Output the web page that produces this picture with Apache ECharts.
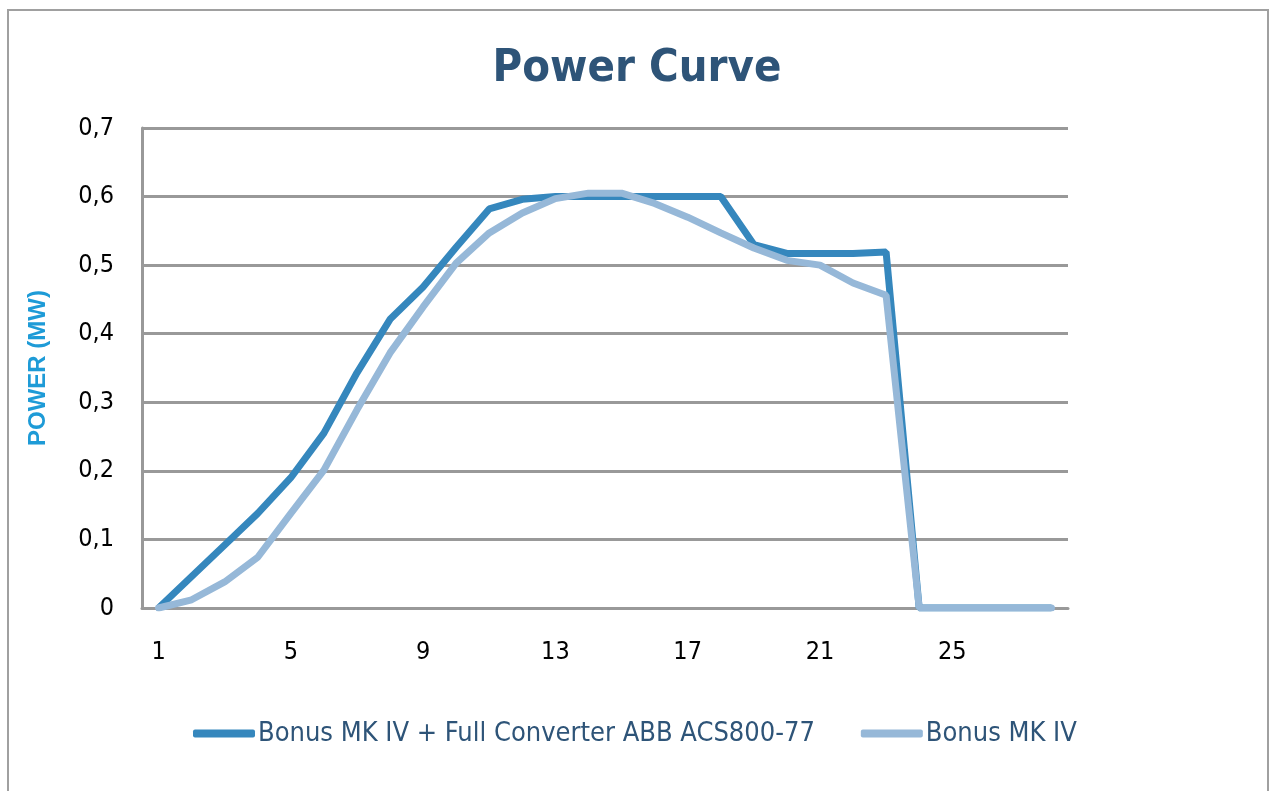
<!DOCTYPE html>
<html>
<head>
<meta charset="utf-8">
<script src="https://cdn.jsdelivr.net/npm/echarts@6/dist/echarts.min.js"></script>
<style>
  html, body { margin: 0; padding: 0; background: #fff; }
  #main { width: 1274px; height: 791px; }
</style>
</head>
<body>
<div id="main"></div>
<script>
// wind speed categories 1..28
var categories = ['1','2','3','4','5','6','7','8','9','10','11','12','13','14','15','16','17','18','19','20','21','22','23','24','25','26','27','28'];
var converter = [0, 0.046, 0.092, 0.138, 0.19, 0.255, 0.343, 0.421, 0.468, 0.526, 0.582, 0.596, 0.6, 0.6, 0.6, 0.6, 0.6, 0.6, 0.53, 0.517, 0.517, 0.517, 0.519, 0, 0, 0, 0, 0];
var bonus = [0, 0.012, 0.038, 0.074, 0.138, 0.201, 0.289, 0.372, 0.439, 0.503, 0.547, 0.576, 0.597, 0.605, 0.605, 0.59, 0.57, 0.547, 0.525, 0.507, 0.5, 0.474, 0.456, 0, 0, 0, 0, 0];
var seriesNames = ['Bonus MK IV + Full Converter ABB ACS800-77', 'Bonus MK IV'];

var font = "'Liberation Sans Narrow', 'DejaVu Sans Condensed', sans-serif";
var chart = echarts.init(document.getElementById('main'));

chart.setOption({
  animation: false,
  graphic: [{
    type: 'rect',
    shape: { x: 8, y: 10, width: 1260, height: 800 },
    style: { fill: 'none', stroke: '#a0a0a0', lineWidth: 2 },
    silent: true
  }],
  title: {
    text: 'Power Curve',
    left: 'center',
    top: 42,
    textStyle: { fontFamily: font, fontSize: 45, fontWeight: 'bold', color: '#2e5478' }
  },
  legend: {
    data: seriesNames,
    left: 188,
    top: 715,
    itemWidth: 62,
    itemHeight: 8,
    itemGap: 46,
    icon: 'roundRect',
    textStyle: { fontFamily: font, fontSize: 27, color: '#2e5478', padding: [0, 0, 0, -2] }
  },
  grid: { left: 142, right: 206, top: 128, bottom: 183, containLabel: false },
  xAxis: {
    type: 'category',
    data: categories,
    boundaryGap: true,
    axisLine: { lineStyle: { color: '#999', width: 3 } },
    axisTick: { show: false },
    axisLabel: { interval: 3, margin: 32, fontFamily: font, fontSize: 25, color: '#000' }
  },
  yAxis: {
    type: 'value',
    min: 0,
    max: 0.7,
    interval: 0.1,
    name: 'POWER (MW)',
    nameLocation: 'middle',
    nameGap: 92,
    nameTextStyle: { fontFamily: 'Liberation Sans, sans-serif', fontSize: 24, fontWeight: 'bold', color: '#1e9bd7' },
    axisLine: { show: true, lineStyle: { color: '#999', width: 3 } },
    axisTick: { show: false },
    splitLine: { lineStyle: { color: '#999', width: 3 } },
    axisLabel: {
      margin: 28,
      fontFamily: font,
      fontSize: 25,
      color: '#000',
      formatter: function (v) { return v === 0 ? '0' : v.toFixed(1).replace('.', ','); }
    }
  },
  series: [{
    name: seriesNames[0],
    type: 'line',
    data: converter,
    showSymbol: false,
    color: '#3587bd',
    lineStyle: { width: 7, color: '#3587bd' },
    z: 2
  }, {
    name: seriesNames[1],
    type: 'line',
    data: bonus,
    showSymbol: false,
    color: '#96b8d8',
    lineStyle: { width: 7, color: '#96b8d8', cap: 'round' },
    z: 3
  }]
});
</script>
</body>
</html>
